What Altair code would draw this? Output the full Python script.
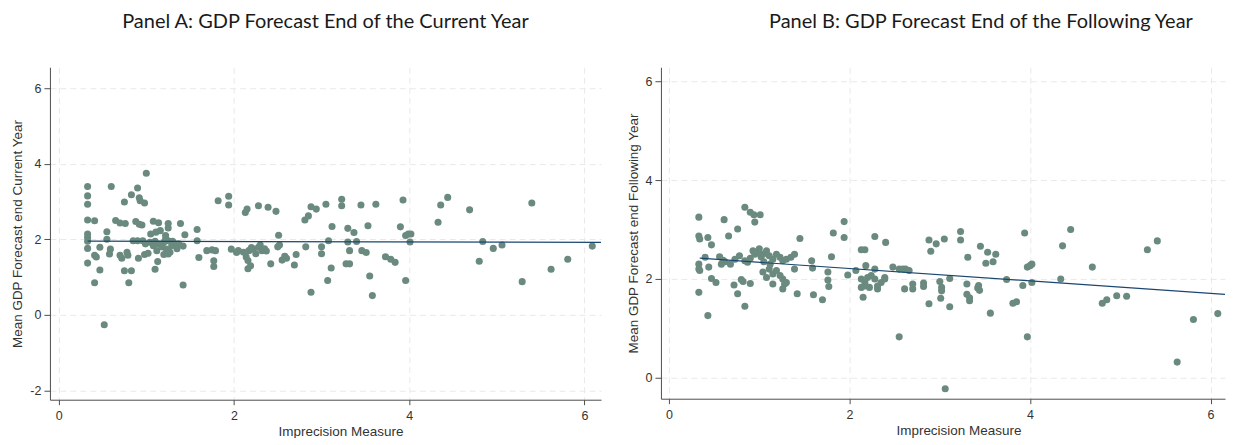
import altair as alt
import pandas as pd

# ---------------- Panel A data (Imprecision measure vs mean GDP forecast, current year)
a_x = [0.33, 0.33, 0.33, 0.33, 0.41, 0.33, 0.33, 0.33, 0.33, 0.33, 0.41, 0.43, 0.41, 0.47, 0.47,
       0.52, 0.55, 0.55, 0.60, 0.59, 0.58, 0.65, 0.70, 0.76, 0.70, 0.72, 0.78, 0.79, 0.75, 0.75,
       0.83, 0.80, 0.83, 0.90, 0.92, 0.93, 0.98, 1.00, 0.88, 0.92, 0.95, 0.85, 0.90, 0.96, 0.91,
       0.98, 1.02, 1.08, 1.14, 1.05, 1.11, 1.16, 0.99, 1.04, 1.08, 1.14, 1.20, 1.25, 1.29, 1.33,
       1.37, 1.23, 1.27, 1.10, 1.18, 1.30, 1.22, 1.35, 1.42, 1.12, 1.20, 1.13, 1.10, 1.25, 1.25,
       1.22, 1.39, 1.44, 1.42, 1.25, 1.58, 1.58, 1.60, 1.69, 1.75, 1.79, 1.77, 1.77, 1.82, 1.94,
       1.94, 1.97, 2.03, 2.05, 2.11, 2.17, 2.22, 2.28, 2.32, 2.37, 2.25, 2.30, 2.20, 2.35, 2.14,
       2.16, 2.19, 2.16, 2.13, 2.15, 2.28, 2.39, 2.48, 2.42, 2.51, 2.50, 2.52, 2.55, 2.60, 2.58,
       2.69, 2.71, 2.82, 2.81, 2.85, 2.88, 2.94, 3.05, 2.88, 3.00, 3.00, 3.08, 3.12, 3.11, 3.07,
       3.23, 3.23, 3.30, 3.32, 3.30, 3.37, 3.40, 3.28, 3.32, 3.45, 3.46, 3.51, 3.53, 3.55, 3.58,
       3.62, 3.73, 3.79, 3.84, 3.93, 3.90, 3.96, 3.99, 4.02, 4.01, 3.96, 4.36, 4.44, 4.33, 4.69,
       4.84, 4.80, 4.96, 5.06, 5.40, 5.29, 5.62, 5.81, 6.09]
a_y = [3.40, 3.15, 2.93, 2.51, 2.49, 2.14, 2.05, 1.95, 1.76, 1.37, 1.58, 1.53, 0.85, 1.19, 1.79,
       -0.26, 2.00, 2.20, 3.40, 1.74, 1.61, 2.50, 2.43, 2.42, 1.58, 1.50, 1.66, 1.58, 2.99, 1.17,
       1.17, 0.85, 3.18, 3.36, 3.10, 3.02, 2.96, 3.75, 2.47, 2.40, 2.38, 1.96, 1.96, 1.96, 1.50,
       1.60, 1.63, 2.48, 2.44, 2.14, 2.19, 2.23, 1.88, 1.92, 1.83, 1.88, 1.92, 1.96, 1.83, 1.88,
       1.88, 1.74, 1.66, 1.95, 1.80, 1.95, 2.00, 1.75, 1.82, 1.70, 1.60, 1.41, 1.21, 2.42, 2.30,
       2.10, 2.42, 2.12, 0.79, 1.61, 2.26, 1.96, 1.52, 1.70, 1.72, 1.70, 1.43, 1.28, 3.02, 3.14,
       2.91, 1.74, 1.65, 1.70, 1.66, 1.70, 1.74, 1.79, 1.70, 1.69, 1.62, 1.85, 1.78, 1.75, 1.53,
       1.44, 1.30, 1.22, 2.71, 2.80, 2.89, 2.85, 2.74, 1.35, 2.11, 1.80, 1.85, 1.45, 1.50, 1.55,
       1.32, 1.60, 1.80, 2.51, 2.62, 2.86, 2.80, 2.93, 0.60, 1.80, 1.62, 1.96, 2.34, 1.24, 0.91,
       3.06, 2.89, 1.93, 1.70, 2.29, 2.18, 1.94, 1.35, 1.35, 2.91, 1.70, 1.65, 2.36, 1.03, 0.51,
       2.93, 1.54, 1.47, 1.39, 3.04, 2.33, 2.10, 2.14, 2.14, 1.93, 0.91, 2.91, 3.11, 2.45, 2.78,
       1.94, 1.42, 1.76, 1.85, 2.96, 0.88, 1.21, 1.47, 1.82]
a_fit_x = [0.33, 6.19]
a_fit_y = [1.95, 1.92]

# ---------------- Panel B data (following year)
b_x = [0.33, 0.33, 0.34, 0.43, 0.47, 0.40, 0.33, 0.33, 0.34, 0.44, 0.33, 0.43, 0.47, 0.52, 0.61,
       0.66, 0.76, 0.56, 0.60, 0.58, 0.72, 0.76, 0.80, 0.82, 0.84, 0.90, 0.84, 0.90, 0.94, 1.01,
       0.95, 0.73, 0.78, 0.84, 0.87, 0.93, 0.97, 1.00, 1.04, 1.08, 1.11, 1.15, 1.19, 1.23, 1.26,
       1.30, 1.35, 1.39, 1.04, 1.08, 1.11, 1.15, 1.19, 1.23, 1.26, 1.28, 1.30, 1.15, 1.26, 0.62,
       0.68, 0.90, 0.95, 1.02, 1.05, 1.12, 1.39, 1.45, 1.42, 1.58, 1.59, 1.60, 1.70, 1.76, 1.76,
       1.77, 1.80, 1.82, 1.94, 1.94, 1.98, 2.28, 2.40, 2.13, 2.17, 2.07, 2.18, 2.28, 2.39, 2.48,
       2.55, 2.59, 2.13, 2.17, 2.20, 2.24, 2.28, 2.31, 2.35, 2.39, 2.13, 2.17, 2.22, 2.31, 2.15,
       2.55, 2.61, 2.70, 2.70, 2.82, 2.82, 2.88, 2.88, 2.90, 2.96, 3.05, 3.00, 3.02, 3.02, 3.01,
       3.11, 3.11, 3.06, 3.23, 3.23, 3.31, 3.30, 3.30, 3.33, 3.33, 3.42, 3.44, 3.43, 3.45, 3.53,
       3.62, 3.51, 3.59, 3.56, 3.74, 3.81, 3.85, 3.94, 3.92, 3.97, 4.00, 4.02, 4.02, 3.97, 4.45,
       4.36, 4.69, 4.34, 4.80, 4.85, 4.96, 5.07, 5.30, 5.41, 5.63, 5.81, 6.08, 2.62, 2.66]
b_y = [3.25, 2.87, 2.81, 2.84, 2.69, 2.44, 2.30, 2.20, 2.17, 2.24, 1.73, 1.26, 2.01, 1.93, 3.20,
       2.87, 3.01, 2.45, 2.38, 2.30, 1.88, 1.70, 1.99, 1.95, 1.45, 1.91, 3.45, 3.35, 3.30, 3.30,
       3.15, 2.40, 2.47, 2.37, 2.34, 2.57, 2.54, 2.61, 2.50, 2.57, 2.47, 2.40, 2.50, 2.44, 2.37,
       2.40, 2.44, 2.50, 2.14, 2.03, 2.20, 2.10, 2.17, 2.07, 2.00, 1.90, 1.93, 1.90, 1.80, 2.35,
       2.30, 2.42, 2.50, 2.45, 2.35, 2.30, 2.20, 2.82, 1.70, 2.37, 2.22, 1.68, 1.58, 2.14, 1.98,
       1.85, 2.45, 2.93, 3.16, 2.84, 2.08, 2.86, 2.74, 2.59, 2.59, 2.17, 2.27, 2.20, 2.00, 2.24,
       2.20, 2.20, 2.00, 1.93, 2.03, 2.07, 2.00, 1.86, 1.93, 2.03, 1.83, 1.86, 1.83, 1.80, 1.63,
       0.83, 1.80, 1.80, 1.90, 1.92, 1.85, 1.50, 2.79, 2.56, 2.71, 2.81, 1.95, 1.83, 1.76, 1.61,
       1.44, 2.01, -0.22, 2.96, 2.79, 2.44, 1.90, 1.69, 1.62, 1.56, 1.82, 1.77, 1.87, 2.66, 2.54,
       2.50, 2.32, 2.35, 1.31, 1.99, 1.51, 1.54, 2.93, 1.87, 2.24, 2.27, 2.30, 1.93, 0.83, 3.00,
       2.67, 2.24, 2.00, 1.51, 1.58, 1.66, 1.65, 2.59, 2.77, 0.32, 1.18, 1.30, 2.20, 2.17]
b_fit_x = [0.34, 6.16]
b_fit_y = [2.42, 1.69]

x_ticks = [0, 2, 4, 6]
a_y_ticks = [-2, 0, 2, 4, 6]
b_y_ticks = [0, 2, 4, 6]

POINT = "#6b8a7f"
LINE = "#1a476f"
AXIS_FONT = "Liberation Sans"
TITLE_FONT = "Lato"
LABEL_EXPR = "'' + datum.value"


def panel(xs, ys, fx, fy, title, ytitle, xdom, ydom, yticks, w, h, title_dx, xtitle_x):
    pts_df = pd.DataFrame({"x": xs, "y": ys})
    fit_df = pd.DataFrame({"x": fx, "y": fy})
    xsc = alt.Scale(domain=xdom, nice=False, zero=False)
    ysc = alt.Scale(domain=ydom, nice=False, zero=False)
    xax = alt.Axis(values=x_ticks, title="Imprecision Measure", titleX=xtitle_x,
                   titleAlign="center", titlePadding=2, labelExpr=LABEL_EXPR,
                   labelPadding=5, tickSize=5, labelFlush=False)
    yax = alt.Axis(values=yticks, title=ytitle, titlePadding=5, labelPadding=3,
                   tickSize=6, labelFlush=False, labelExpr=LABEL_EXPR)
    pts = alt.Chart(pts_df).mark_circle(size=50, opacity=1, color=POINT).encode(
        x=alt.X("x:Q", scale=xsc, axis=xax),
        y=alt.Y("y:Q", scale=ysc, axis=yax),
    )
    ln = alt.Chart(fit_df).mark_line(color=LINE, strokeWidth=1.2).encode(
        x=alt.X("x:Q", scale=xsc),
        y=alt.Y("y:Q", scale=ysc),
    )
    return alt.layer(pts, ln).properties(
        width=w, height=h,
        title=alt.Title(title, font=TITLE_FONT, fontSize=20, fontWeight="normal",
                        color="#1a1a1a", offset=35, anchor="middle", dx=title_dx),
    )


pa = panel(a_x, a_y, a_fit_x, a_fit_y,
           "Panel A: GDP Forecast End of the Current Year",
           "Mean GDP Forecast end Current Year",
           [-0.10, 6.19], [-2.246, 6.555], a_y_ticks, 552, 333, 0, 291)
pb = panel(b_x, b_y, b_fit_x, b_fit_y,
           "Panel B: GDP Forecast End of the Following Year",
           "Mean GDP Forecast end Following Year",
           [-0.09, 6.16], [-0.42, 6.28], b_y_ticks, 565, 332, 38, 298)

chart = alt.hconcat(pa, pb, spacing=22).properties(
    padding={"left": 2, "top": 4, "right": 0, "bottom": 0}
).configure_view(
    stroke=None
).configure_axis(
    labelFont=AXIS_FONT, titleFont=AXIS_FONT, labelFontSize=12.5, titleFontSize=13.5,
    titleFontWeight="normal", labelColor="#333333", titleColor="#333333",
    domainColor="#4d4d4d", tickColor="#4d4d4d", domainWidth=1, tickWidth=1,
    gridColor="#e9e9e9", gridDash=[6, 4], gridWidth=1,
)

chart.save("out.html", embed_options={"renderer": "svg", "actions": False})
